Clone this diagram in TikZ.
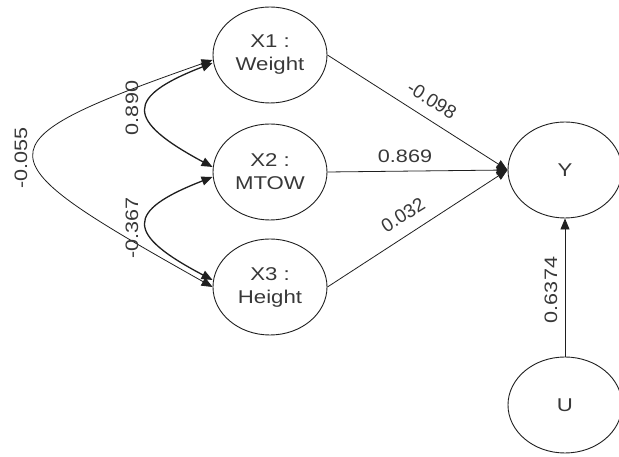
\documentclass[tikz,border=0pt]{standalone}
\usepackage{fontspec}
\setmainfont{Liberation Sans}[FakeStretch=1.2]
\newfontfamily\plainsans{Liberation Sans}
\usetikzlibrary{arrows.meta,shapes.geometric}
\definecolor{ink}{rgb}{0.12,0.12,0.12}
\definecolor{txt}{rgb}{0.22,0.22,0.22}
\begin{document}
\begin{tikzpicture}[x=1pt,y=1pt,
  var/.style={draw=ink, line width=0.9pt, ellipse, minimum width=114pt, minimum height=96pt,
    inner sep=0pt, align=center, text=txt, font=\fontsize{18.5}{23}\selectfont},
  conn/.style={draw=ink, line width=0.8pt},
  thickconn/.style={draw=ink, line width=1.3pt},
  tip/.tip={Triangle[length=11pt,width=9pt]},
  lbl/.style={text=txt, inner sep=0pt, font=\fontsize{18}{20}\selectfont},
  dlbl/.style={text=txt, inner sep=0pt, font=\plainsans\fontsize{19}{20}\selectfont}]
\useasboundingbox (0,0) rectangle (619,457);
\node[var] (x1) at (270,402) {X1 :\\Weight};
\node[var] (x2) at (270,285) {X2 :\\MTOW};
\node[var] (x3) at (270,170) {X3 :\\Height};
\node[var] (y) at (565,287) {Y};
\node[var] (u) at (565,52) {U};
\draw[conn,-tip] (x1.east) -- (y.west);
\draw[conn,-tip] (x2.east) -- (y.west);
\draw[conn,-tip] (x3.east) -- (y.west);
\draw[conn,-tip] (u.north) -- (y.south);
\draw[conn,tip-tip] ([yshift=-5pt]x1.west) .. controls (-30,312) and (-18,300) .. (x3.west);
\draw[thickconn,tip-tip] ([yshift=-8pt]x1.west) .. controls (125,360) and (125,337) .. ([yshift=5pt]x2.west);
\draw[thickconn,tip-tip] ([yshift=-5pt]x2.west) .. controls (125,246) and (125,223) .. ([yshift=7pt]x3.west);
\node[lbl,rotate=90] (l055) at (21,299) {-0.055};
\node[lbl,rotate=90] (l890) at (132,349) {0.890};
\node[lbl,rotate=90] (l367) at (132,229) {-0.367};
\node[dlbl,rotate=-32] (l098) at (432,357) {-0.098};
\node[lbl] (l869) at (405,301) {0.869};
\node[dlbl,rotate=32] (l032) at (403,242) {0.032};
\node[lbl,rotate=90] (l6374) at (551,167) {0.6374};
\end{tikzpicture}
\end{document}
